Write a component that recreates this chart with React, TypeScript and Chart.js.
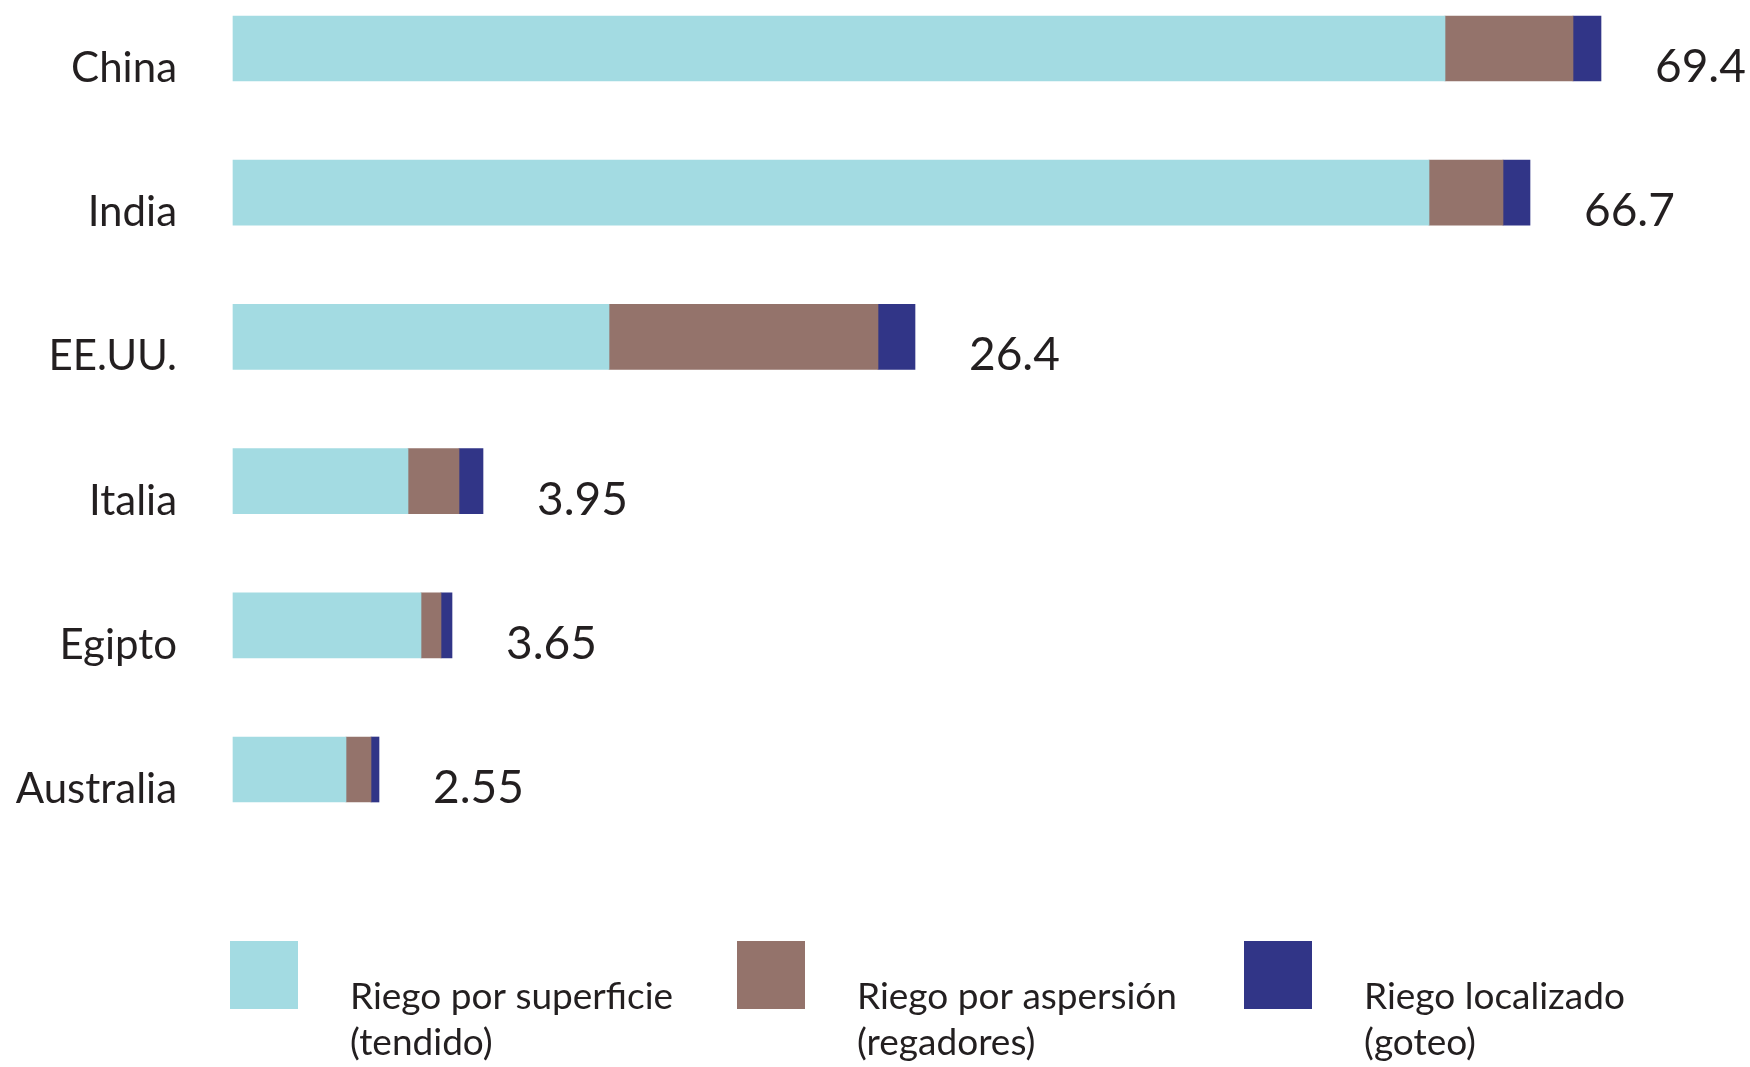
import React, { useEffect, useRef } from "react";
import { Chart, registerables } from "chart.js";

Chart.register(...registerables);

// Categories and printed totals (million ha)
const countries = ["China", "India", "EE.UU.", "Italia", "Egipto", "Australia"];
const totalLabels = ["69.4", "66.7", "26.4", "3.95", "3.65", "2.55"];

// Series names (two-line legend entries)
const seriesNames = [
  ["Riego por superficie", "(tendido)"],
  ["Riego por aspersión", "(regadores)"],
  ["Riego localizado", "(goteo)"],
];

// Segment lengths as drawn in the figure (schematic bar units)
const surface = [121.2, 119.6, 37.6, 17.5, 18.8, 11.3];
const sprinkler = [12.8, 7.4, 26.9, 5.1, 2.0, 2.5];
const drip = [2.8, 2.7, 3.7, 2.4, 1.1, 0.8];

const colors = ["#a3dbe2", "#94736b", "#313587"];
const textColor = "#231f20";
const FONT = "Lato, 'Open Sans', sans-serif";

const valueLabelPlugin = {
  id: "valueLabels",
  afterDatasetsDraw(chart: any) {
    const ctx = chart.ctx;
    const meta = chart.getDatasetMeta(chart.data.datasets.length - 1);
    ctx.save();
    ctx.font = `46px ${FONT}`;
    ctx.fillStyle = textColor;
    ctx.textAlign = "left";
    ctx.textBaseline = "alphabetic";
    meta.data.forEach((bar: any, i: number) => {
      const p = bar.getProps(["x", "y", "height"], true);
      ctx.fillText(totalLabels[i], p.x + 54, p.y + p.height / 2 + 1);
    });
    ctx.restore();
  },
};

const customLegendPlugin = {
  id: "customLegend",
  afterDraw(chart: any) {
    const ctx = chart.ctx;
    const left = chart.chartArea.left - 3;
    const step = 507;
    const swatchTop = 941;
    const swatch = 68;
    ctx.save();
    ctx.font = `37px ${FONT}`;
    ctx.fillStyle = textColor;
    ctx.textAlign = "left";
    ctx.textBaseline = "alphabetic";
    seriesNames.forEach((lines, i) => {
      const x = left + i * step;
      ctx.fillStyle = colors[i];
      ctx.fillRect(x, swatchTop, swatch, swatch);
      ctx.fillStyle = textColor;
      ctx.fillText(lines[0], x + 120, 1009);
      ctx.fillText(lines[1], x + 120, 1055);
    });
    ctx.restore();
  },
};

export default function App() {
  const canvasRef = useRef<HTMLCanvasElement | null>(null);

  useEffect(() => {
    if (!canvasRef.current) return;
    const seriesData = [surface, sprinkler, drip];
    const chart = new Chart(canvasRef.current, {
      type: "bar",
      data: {
        labels: countries,
        datasets: seriesData.map((d, i) => ({
          label: seriesNames[i].join(" "),
          data: d,
          backgroundColor: colors[i],
          borderWidth: 0,
          barThickness: 65,
          clip: false as any,
        })),
      },
      options: {
        indexAxis: "y",
        responsive: false,
        maintainAspectRatio: false,
        animation: false,
        layout: { padding: { top: 48.5, bottom: 297.5, left: 0, right: 17 } },
        plugins: {
          legend: { display: false },
          tooltip: { enabled: false },
        },
        scales: {
          x: { stacked: true, display: false, min: 0, max: 150 },
          y: {
            stacked: true,
            offset: false,
            grid: { display: false, drawTicks: false },
            border: { display: false },
            ticks: {
              padding: 56,
              labelOffset: 20,
              color: textColor,
              font: { family: FONT, size: 42 },
            },
            afterFit: (s: any) => {
              s.width = 233;
              s.paddingTop = 0;
              s.paddingBottom = 0;
            },
          },
        },
      },
      plugins: [valueLabelPlugin, customLegendPlugin],
    });
    return () => chart.destroy();
  }, []);

  return (
    <div style={{ position: "absolute", left: 0, top: 0, width: 1750, height: 1067, background: "#fff" }}>
      <canvas ref={canvasRef} width={1750} height={1067} style={{ display: "block" }} />
    </div>
  );
}
